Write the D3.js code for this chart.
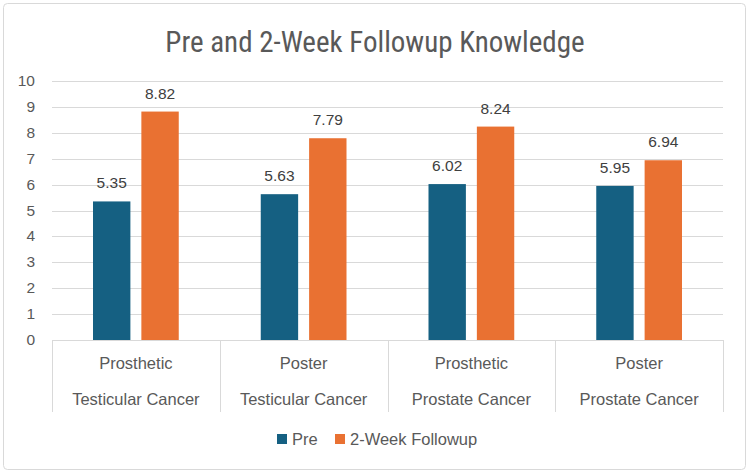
<!DOCTYPE html>
<html>
<head>
<meta charset="utf-8">
<script src="https://cdn.jsdelivr.net/npm/d3@7"></script>
<style>
  body { margin: 0; background: #fff; }
  svg { display: block; }
  text { font-family: "Liberation Sans", Arial, sans-serif; }
</style>
</head>
<body>
<script>
// chart data
var methods = ["Prosthetic", "Poster", "Prosthetic", "Poster"];
var cancers = ["Testicular Cancer", "Testicular Cancer", "Prostate Cancer", "Prostate Cancer"];
var preScores = [5.35, 5.63, 6.02, 5.95];
var followupScores = [8.82, 7.79, 8.24, 6.94];
var seriesNames = ["Pre", "2-Week Followup"];
var yTicks = [0, 1, 2, 3, 4, 5, 6, 7, 8, 9, 10];

var width = 750, height = 474;
var plotLeft = 52, plotRight = 723, plotTop = 81, plotBottom = 340;
var colors = {"Pre": "#156082", "2-Week Followup": "#E97132"};

var svg = d3.select("body").append("svg")
    .attr("width", width).attr("height", height);

// border
svg.append("rect")
    .attr("x", 3.5).attr("y", 3.5)
    .attr("width", 742).attr("height", 466)
    .attr("rx", 4)
    .attr("fill", "#fff").attr("stroke", "#d9d9d9");

svg.append("text")
    .attr("x", 375).attr("y", 52)
    .attr("text-anchor", "middle")
    .style("font-family", "'Liberation Sans Narrow', 'Roboto Condensed', sans-serif")
    .style("font-size", "29px")
    .attr("fill", "#595959")
    .text("Pre and 2-Week Followup Knowledge");

var y = d3.scaleLinear().domain([0, 10]).range([plotBottom, plotTop]);

var groups = d3.range(methods.length);
var x0 = d3.scaleBand().domain(groups).range([plotLeft, plotRight]).padding(0);
var x1 = d3.scaleBand().domain(seriesNames)
    .range([41, x0.bandwidth() - 41]).paddingInner(0.227).paddingOuter(0);

// gridlines
svg.append("g").selectAll("line")
    .data(yTicks)
    .enter().append("line")
    .attr("x1", plotLeft).attr("x2", plotRight)
    .attr("y1", function(d) { return Math.round(y(d)) + 0.5; })
    .attr("y2", function(d) { return Math.round(y(d)) + 0.5; })
    .attr("stroke", "#d9d9d9").attr("stroke-width", 1);

// y tick labels
svg.append("g").selectAll("text")
    .data(yTicks)
    .enter().append("text")
    .attr("x", 35)
    .attr("y", function(d) { return y(d) + 5; })
    .attr("text-anchor", "end")
    .style("font-size", "15.5px")
    .attr("fill", "#595959")
    .text(function(d) { return d; });

// bars
var rows = groups.map(function(i) {
  return [
    {group: i, name: "Pre", value: preScores[i]},
    {group: i, name: "2-Week Followup", value: followupScores[i]}
  ];
});

var g = svg.append("g").selectAll("g")
    .data(rows)
    .enter().append("g")
    .attr("transform", function(d, i) { return "translate(" + x0(i) + ",0)"; });

g.selectAll("rect")
    .data(function(d) { return d; })
    .enter().append("rect")
    .attr("x", function(d) { return x1(d.name); })
    .attr("width", x1.bandwidth())
    .attr("y", function(d) { return y(d.value); })
    .attr("height", function(d) { return plotBottom - y(d.value); })
    .attr("fill", function(d) { return colors[d.name]; });

g.selectAll("text")
    .data(function(d) { return d; })
    .enter().append("text")
    .attr("x", function(d) { return x1(d.name) + x1.bandwidth() / 2; })
    .attr("y", function(d) { return y(d.value) - 13; })
    .attr("text-anchor", "middle")
    .style("font-size", "15.5px")
    .attr("fill", "#404040")
    .text(function(d) { return d.value.toFixed(2); });

// category separators
var seps = groups.concat([groups.length]);
svg.append("g").selectAll("line")
    .data(seps)
    .enter().append("line")
    .attr("x1", function(d) { return d < groups.length ? Math.round(x0(d)) + 0.5 : plotRight + 0.5; })
    .attr("x2", function(d) { return d < groups.length ? Math.round(x0(d)) + 0.5 : plotRight + 0.5; })
    .attr("y1", plotBottom).attr("y2", 412)
    .attr("stroke", "#d9d9d9");

// category labels
var cat = svg.append("g").selectAll("g")
    .data(groups)
    .enter().append("g")
    .attr("transform", function(d) { return "translate(" + (x0(d) + x0.bandwidth() / 2) + ",0)"; });

cat.append("text")
    .attr("y", 369)
    .attr("text-anchor", "middle")
    .style("font-size", "16.5px")
    .attr("fill", "#595959")
    .text(function(d) { return methods[d]; });

cat.append("text")
    .attr("y", 405)
    .attr("text-anchor", "middle")
    .style("font-size", "16.5px")
    .attr("fill", "#595959")
    .text(function(d) { return cancers[d]; });

// legend
var legendX = [277, 335];
var legend = svg.append("g").selectAll("g")
    .data(seriesNames)
    .enter().append("g")
    .attr("transform", function(d, i) { return "translate(" + legendX[i] + ",434)"; });

legend.append("rect")
    .attr("width", 10).attr("height", 10)
    .attr("fill", function(d) { return colors[d]; });

legend.append("text")
    .attr("x", 15).attr("y", 11)
    .style("font-size", "16.5px")
    .attr("fill", "#595959")
    .text(function(d) { return d; });
</script>
</body>
</html>
